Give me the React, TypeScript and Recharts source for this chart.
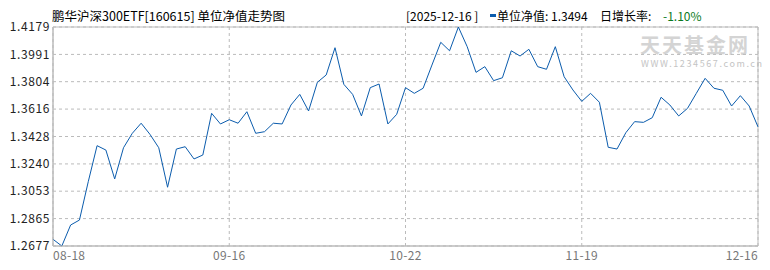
import { LineChart, Line, XAxis, YAxis, CartesianGrid, ReferenceArea } from "recharts"

// daily unit NAV, 08-18 .. 12-16 (81 trading days)
const navValues = [
  1.2723, 1.2677, 1.2821, 1.2855, 1.3118, 1.3365, 1.3335, 1.3137, 1.3351, 1.345,
  1.3519, 1.3443, 1.3351, 1.308, 1.3342, 1.3358, 1.3274, 1.3301, 1.3587, 1.3514,
  1.3543, 1.3519, 1.3598, 1.345, 1.3461, 1.3519, 1.3514, 1.3644, 1.3717, 1.3603,
  1.38, 1.385, 1.4037, 1.3786, 1.3717, 1.3569, 1.3763, 1.3788, 1.3514, 1.358,
  1.3763, 1.3724, 1.3759, 1.3918, 1.4074, 1.4016, 1.4179, 1.4044, 1.3868, 1.3907,
  1.3811, 1.3831, 1.4016, 1.398, 1.4026, 1.3907, 1.3889, 1.4044, 1.3838, 1.3747,
  1.3669, 1.3724, 1.3663, 1.3354, 1.3342, 1.3454, 1.353, 1.3525, 1.3557, 1.3697,
  1.3644, 1.3569, 1.3621, 1.3724, 1.3827, 1.3759, 1.3745, 1.3637, 1.3708, 1.3637,
  1.3494,
]

const xTickIndex = [0, 20, 40, 60, 80]
const xTickLabels = ["08-18", "09-16", "10-22", "11-19", "12-16"]
const yTicks = [1.2677, 1.2865, 1.3053, 1.324, 1.3428, 1.3616, 1.3804, 1.3991, 1.4179]

const title = "鹏华沪深300ETF[160615] 单位净值走势图"
const lastDate = "[2025-12-16 ]"
const navLabel = "单位净值: 1.3494"
const rateLabel = "日增长率:"
const rateValue = "-1.10%"

const font = "'Noto Sans CJK SC', 'DejaVu Sans', sans-serif"
const lineColor = "#0b5cad"
const gridColor = "#bbbbbb"
const yMin = yTicks[0]
const yMax = yTicks[yTicks.length - 1]
const lastIdx = navValues.length - 1

const XTick = (props: any) => {
  const { x, y, payload } = props
  const pos = xTickIndex.indexOf(payload.value)
  let anchor = "middle"
  if (payload.value === 0) anchor = "start"
  if (payload.value === lastIdx) anchor = "end"
  return (
    <text x={x} y={y} dy="0.71em" textAnchor={anchor} fill="#777" fontSize={12} fontFamily={font} letterSpacing={0.3}>
      {xTickLabels[pos]}
    </text>
  )
}

const YTick = (props: any) => {
  const { x, y, payload } = props
  return (
    <text x={x} y={y} dy="0.35em" textAnchor="end" fill="#222" fontSize={12} fontFamily={font} letterSpacing={0.6}>
      {payload.value.toFixed(4)}
    </text>
  )
}

const txt = (left: number, extra: any = {}) => ({
  position: "absolute" as const,
  left,
  top: 7,
  fontSize: 12,
  lineHeight: "18px",
  whiteSpace: "pre" as const,
  color: "#000",
  zIndex: 2,
  ...extra,
})

export default function App() {
  const data = navValues.map((v, i) => ({ i, nav: v }))
  return (
    <div
      style={{
        position: "absolute",
        left: 0,
        top: 0,
        width: 770,
        height: 270,
        background: "#fff",
        fontFamily: font,
        overflow: "hidden",
      }}
    >
      {/* watermark */}
      <div
        style={{
          position: "absolute",
          left: 640,
          top: 35,
          fontSize: 20,
          fontWeight: 700,
          color: "#d4d4d4",
          letterSpacing: 2,
          lineHeight: "20px",
        }}
      >
        天天基金网
      </div>
      <div
        style={{
          position: "absolute",
          left: 641,
          top: 59,
          fontSize: 9,
          color: "#c4c4c4",
          letterSpacing: 1.6,
          lineHeight: "9px",
        }}
      >
        WWW.1234567.com.cn
      </div>

      <span style={txt(52, { fontSize: 12.5 })}>{title}</span>
      <span style={txt(406)}>{lastDate}</span>
      <span
        style={{ position: "absolute", left: 490, top: 14, width: 6, height: 3, background: lineColor, zIndex: 2 }}
      />
      <span style={txt(497)}>{navLabel}</span>
      <span style={txt(600)}>{rateLabel}</span>
      <span style={txt(663, { color: "#0a7a1e" })}>{rateValue}</span>

      <LineChart
        width={770}
        height={270}
        data={data}
        margin={{ top: 27, right: 12, bottom: 0, left: 0 }}
      >
        <CartesianGrid stroke={gridColor} strokeDasharray="3 3" />
        <XAxis
          dataKey="i"
          type="number"
          domain={[0, lastIdx]}
          ticks={xTickIndex}
          height={24}
          tickSize={0}
          tickMargin={5}
          tick={<XTick />}
          stroke={gridColor}
          interval={0}
        />
        <YAxis
          type="number"
          domain={[yMin, yMax]}
          ticks={yTicks}
          width={53}
          tickSize={0}
          tickMargin={3}
          tick={<YTick />}
          stroke={gridColor}
          interval={0}
        />
        <ReferenceArea x1={0} x2={lastIdx} y1={yMin} y2={yMax} fill="none" stroke={gridColor} strokeWidth={1} />
        <Line
          type="linear"
          dataKey="nav"
          stroke={lineColor}
          strokeWidth={1}
          dot={false}
          activeDot={false}
          isAnimationActive={false}
        />
      </LineChart>
    </div>
  )
}
